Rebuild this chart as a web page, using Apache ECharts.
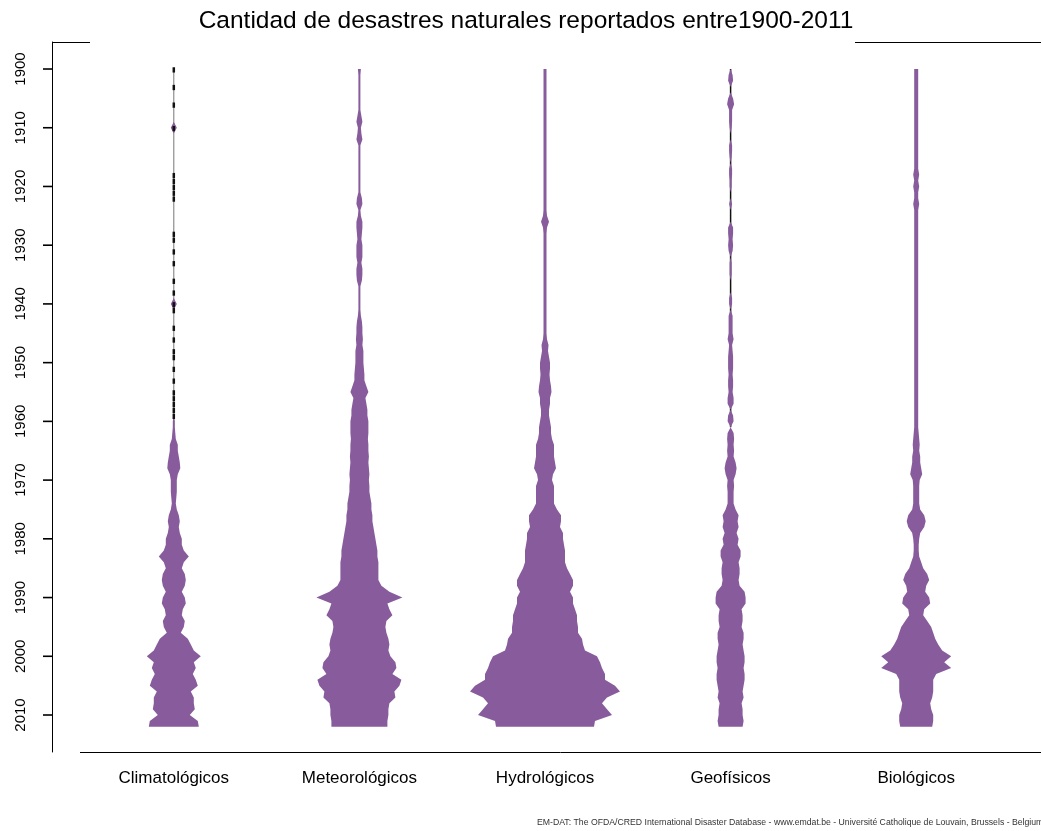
<!DOCTYPE html>
<html>
<head>
<meta charset="utf-8">
<script src="https://cdn.jsdelivr.net/npm/echarts@6/dist/echarts.min.js"></script>
<style>
  html, body { margin: 0; padding: 0; background: #fff; }
  #chart { width: 1041px; height: 831px; }
</style>
</head>
<body>
<div id="chart"></div>
<script>
const categorias = ['Climatológicos', 'Meteorológicos', 'Hydrológicos', 'Geofísicos', 'Biológicos']
const anioInicio = 1900
const ticksAnios = [1900, 1910, 1920, 1930, 1940, 1950, 1960, 1970, 1980, 1990, 2000, 2010]

// densidad (semi-ancho) por año, 1900..2012
const densClima = [
  0, 0, 0, 0, 0, 0, 0, 0, 0, 0,
  3, 0, 0, 0, 0, 0, 0, 0, 0, 0,
  0, 0, 0, 0, 0, 0, 0, 0, 0, 0,
  0, 0, 0, 0, 0, 0, 0, 0, 0, 0,
  3, 0, 0, 0, 0, 0, 0, 0, 0, 0,
  0, 0, 0, 0, 0, 0, 0, 0, 0, 0,
  1, 1, 1.5, 2, 4, 4, 5, 6, 6.5, 4,
  3, 3, 3, 2.5, 2, 3, 5, 6, 5, 6,
  8, 8, 10, 15, 10, 8, 11, 12, 11, 8,
  11, 12, 9, 8, 11, 10, 7, 14, 17, 20,
  27, 20, 22, 19, 22, 24, 17, 20, 20, 21,
  16, 24, 25
]
const densMeteo = [
  1.5, 1, 1, 1, 1, 1, 1, 1, 2, 3,
  1.5, 2, 3, 1, 1, 1, 1, 1, 1, 1,
  1, 1, 2.5, 3, 1, 1.5, 3, 3, 2.5, 2,
  3, 3, 3, 2, 3, 3, 2.5, 1, 1, 1,
  1, 1, 1.5, 2.5, 3, 3, 3.5, 3, 4, 4,
  4, 4.5, 5, 5, 7, 9, 6, 7, 8, 8,
  9, 9, 9, 8.5, 9, 9, 9.5, 9, 9.5, 10,
  9.5, 10, 10, 11, 12, 12, 13, 13, 14, 15,
  16, 17, 18, 18, 19, 19, 19, 19, 22, 30,
  43, 28, 30, 33, 27, 26, 27, 29, 30, 29,
  31, 36, 37, 33, 42, 40, 35, 36, 30, 29,
  29, 28, 28
]
const densHydro = [
  1.5, 1.5, 1.5, 1.5, 1.5, 1.5, 1.5, 1.5, 1.5, 1.5,
  1.5, 1.5, 1.5, 1.5, 1.5, 1.5, 1.5, 1.5, 1.5, 1.5,
  1.5, 1.5, 1.5, 1.5, 1.5, 2, 4, 2, 1.5, 1.5,
  1.5, 1.5, 1.5, 1.5, 1.5, 1.5, 1.5, 1.5, 1.5, 1.5,
  1.5, 1.5, 1.5, 1.5, 1.5, 1.5, 2, 3.5, 3, 4,
  5, 5, 4.5, 5, 6, 6.5, 5, 5, 4, 4,
  5, 6, 6, 7, 9, 9, 9, 10, 11, 8,
  7, 9, 9, 9, 9, 12, 16, 16, 15, 18,
  18, 19, 20, 20, 20, 22, 25, 28, 28, 25,
  28, 28, 30, 32, 32, 33, 33, 37, 38, 40,
  52, 55, 57, 60, 60, 70, 75, 62, 57, 62,
  67, 50, 49
]
const densGeo = [
  0, 2, 2.5, 0, 0, 2.5, 3.5, 1.5, 1.5, 1.5,
  1, 0, 0, 1.5, 1.5, 1, 0, 1.5, 1.5, 1,
  1, 0, 0, 1.5, 0, 0, 0, 2.5, 2.5, 2,
  2.5, 2, 0, 1, 1, 1, 0, 0, 0, 1.5,
  1.5, 0, 2, 2, 2, 2, 3, 1.5, 2, 2.5,
  2.5, 2.5, 2, 2.5, 2.5, 2, 3, 3, 0, 2.5,
  3, 0, 3, 3.5, 3, 3.5, 3, 5, 6, 5,
  3, 3.5, 3, 3, 3, 5, 8, 7, 8, 6,
  8, 7, 10, 10, 8, 9, 9, 8, 9, 14,
  15, 15, 11, 12, 12, 11, 13, 13, 12, 13,
  14, 14, 13, 14, 14, 13, 12, 13, 11, 12,
  12, 13, 12
]
const densBio = [
  2, 2, 2, 2, 2, 2, 2, 2, 2, 2,
  2, 2, 2, 2, 2, 2, 2, 2, 3, 2,
  3, 2, 2, 3, 2, 2, 2, 2, 2, 2,
  2, 2, 2, 2, 2, 2, 2, 2, 2, 2,
  2, 2, 2, 2, 2, 2, 2, 2, 2, 2,
  2, 2, 2, 2, 2, 2, 2, 2, 2, 2,
  2, 2, 2.5, 3, 3.5, 3, 4, 4, 5, 6,
  3.5, 3, 3, 3, 3, 4, 8, 9.5, 8, 4,
  3, 2.5, 2.5, 3, 5, 7, 11, 13, 10, 9,
  13, 14, 8, 7, 11, 15, 17, 19, 22, 26,
  35, 28, 35, 20, 17, 17, 17, 16, 14, 15,
  17, 17, 16
]
const densidades = [densClima, densMeteo, densHydro, densGeo, densBio]

// líneas de observaciones (beanlines) visibles en los tramos finos
const marcasClima = [1900, 1903, 1906, 1910, 1918, 1919, 1920, 1921, 1922, 1928, 1929, 1931, 1933, 1936, 1938, 1940, 1941, 1944, 1946, 1948, 1949, 1951, 1953, 1955, 1956, 1957, 1958, 1959]
const rangoGrisClima = [1900, 1963]
const rangoNegroGeo = [1900, 1961]

const colorBean = '#885c9c'
const fuente = "'Liberation Sans', Arial, sans-serif"
const escala = 1 / 185.6 // fraccion de la banda por unidad de densidad
const desplazEje = 29

const chart = echarts.init(document.getElementById('chart'))

function lineaVertical(api, i, a0, a1, color, ancho) {
  const a = api.coord([i, a0])
  const b = api.coord([i, a1])
  return { type: 'line', shape: { x1: a[0], y1: a[1], x2: b[0], y2: b[1] }, style: { stroke: color, lineWidth: ancho } }
}

function renderBean(params, api) {
  const i = api.value(0)
  const dens = densidades[i]
  const banda = api.size([1, 0])[0]
  const der = []
  const izq = []
  for (let k = 0; k < dens.length; k++) {
    const p = api.coord([i, anioInicio + k])
    const w = dens[k] * escala * banda
    der.push([p[0] + w, p[1]])
    izq.push([p[0] - w, p[1]])
  }
  const puntos = der.concat(izq.reverse())
  const hijos = []
  if (i === 0) hijos.push(lineaVertical(api, i, rangoGrisClima[0], rangoGrisClima[1], '#777', 1))
  if (i === 3) hijos.push(lineaVertical(api, i, rangoNegroGeo[0], rangoNegroGeo[1], '#111', 1.5))
  hijos.push({ type: 'polygon', shape: { points: puntos }, style: { fill: colorBean } })
  if (i === 0) {
    marcasClima.forEach(function (an) {
      hijos.push(lineaVertical(api, i, an - 0.3, an + 0.6, '#111', 2.5))
    })
    // marcas del eje Y (eje desplazado a la izquierda de la rejilla)
    const xEje = api.coord([0, anioInicio])[0] - banda / 2 - desplazEje
    ticksAnios.forEach(function (an) {
      const y = api.coord([0, an])[1]
      hijos.push({ type: 'line', shape: { x1: xEje - 9, y1: y, x2: xEje, y2: y }, style: { stroke: '#000', lineWidth: 1.6 } })
    })
  }
  return { type: 'group', children: hijos }
}

const option = {
  backgroundColor: '#fff',
  animation: false,
  grid: { left: 81, right: 32, top: 42, bottom: 79 },
  xAxis: {
    type: 'category',
    data: categorias,
    axisLine: { show: false },
    axisTick: { show: false },
    axisLabel: { color: '#000', fontSize: 17, fontFamily: fuente, margin: 18 }
  },
  yAxis: {
    type: 'value',
    inverse: true,
    min: 1895.4,
    max: 2016.3,
    offset: desplazEje,
    splitLine: { show: false },
    axisLine: { show: true, lineStyle: { color: '#000', width: 1 } },
    axisTick: { show: false },
    axisLabel: {
      customValues: ticksAnios,
      formatter: function (v) { return String(v) },
      rotate: 90, color: '#000', fontSize: 15, fontFamily: fuente, margin: 24
    }
  },
  series: [{
    type: 'custom',
    renderItem: renderBean,
    data: categorias.map(function (c, i) { return [i] }),
    clip: false
  }],
  graphic: [
    { type: 'text', x: 526, y: 9, style: { text: 'Cantidad de desastres naturales reportados entre1900-2011', fill: '#000', fontSize: 24.5, fontFamily: fuente, align: 'center' } },
    { type: 'line', shape: { x1: 80, y1: 752.5, x2: 1041, y2: 752.5 }, style: { stroke: '#000', lineWidth: 1 } },
    { type: 'line', shape: { x1: 855, y1: 42.5, x2: 1041, y2: 42.5 }, style: { stroke: '#000', lineWidth: 1 } },
    { type: 'line', shape: { x1: 52, y1: 42.5, x2: 90, y2: 42.5 }, style: { stroke: '#000', lineWidth: 1 } },
    { type: 'text', x: 537, y: 818, style: { text: 'EM-DAT: The OFDA/CRED International Disaster Database - www.emdat.be - Université Catholique de Louvain, Brussels - Belgium', fill: '#333', fontSize: 8.7, fontFamily: fuente } }
  ]
}
chart.setOption(option)
</script>
</body>
</html>
